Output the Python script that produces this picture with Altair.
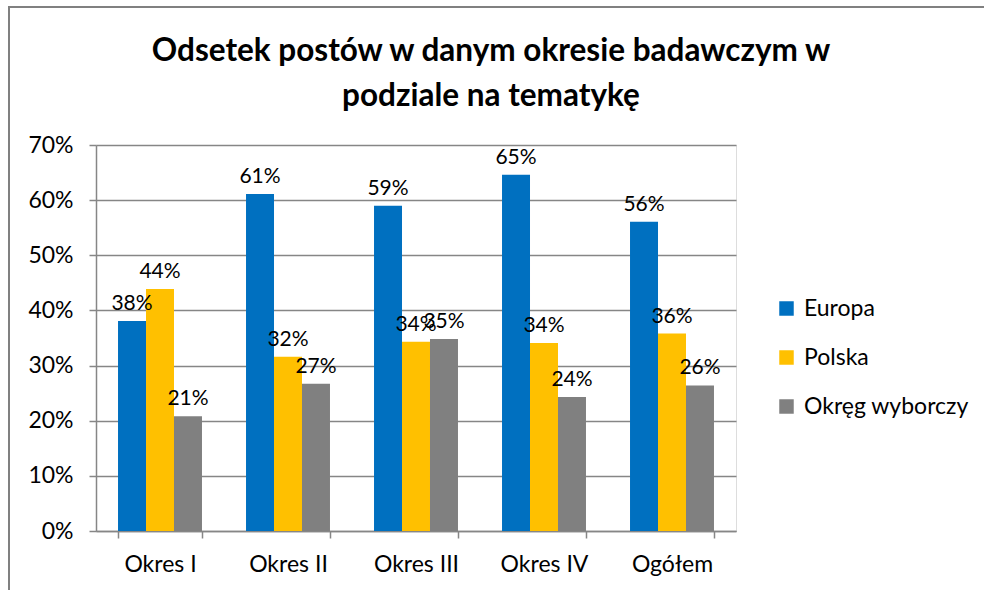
import altair as alt
import pandas as pd

title_lines = ["Odsetek postów w danym okresie badawczym w", "podziale na tematykę"]
categories = ["Okres I", "Okres II", "Okres III", "Okres IV", "Ogółem"]
series = ["Europa", "Polska", "Okręg wyborczy"]
europa = [0.381, 0.611, 0.590, 0.646, 0.561]
polska = [0.439, 0.316, 0.343, 0.341, 0.358]
okreg = [0.208, 0.267, 0.348, 0.243, 0.264]
colors = ["#0070C0", "#FFC000", "#808080"]

rows = []
for s, vals in zip(series, [europa, polska, okreg]):
    for c, v in zip(categories, vals):
        rows.append({"Okres": c, "Seria": s, "Wartosc": v})
df = pd.DataFrame(rows)

FONT = "Lato"
GRID = "#868686"
AX_FS = 23

x = alt.X("Okres:N", sort=categories, title=None,
          scale=alt.Scale(paddingInner=0.344, paddingOuter=0.172),
          axis=alt.Axis(labelAngle=0, labelFontSize=AX_FS, labelFont=FONT, labelColor="#000000",
                        tickBand="extent", tickSize=7, tickColor=GRID, domainColor=GRID,
                        domainWidth=1.5, tickWidth=1.5, labelPadding=15, grid=False))
y = alt.Y("Wartosc:Q", title=None,
          scale=alt.Scale(domain=[0, 0.7], nice=False),
          axis=alt.Axis(format=".0%", values=[0, .1, .2, .3, .4, .5, .6, .7],
                        labelFontSize=AX_FS, labelFont=FONT, labelColor="#000000",
                        tickSize=7, tickColor=GRID, domainColor=GRID, gridColor=GRID,
                        gridWidth=1.5, tickWidth=1.5, domainWidth=1.5, labelPadding=16))
xo = alt.XOffset("Seria:N", sort=series, scale=alt.Scale(paddingInner=0, paddingOuter=0))

bars = alt.Chart(df).mark_bar().encode(
    x=x, y=y, xOffset=xo,
    color=alt.Color("Seria:N", sort=series, title=None,
                    scale=alt.Scale(domain=series, range=colors),
                    legend=alt.Legend(orient="none", legendX=679, legendY=152,
                                      symbolType="square", symbolSize=210,
                                      symbolStrokeWidth=0, labelFontSize=AX_FS, labelFont=FONT,
                                      labelColor="#000000", rowPadding=25, labelOffset=6,
                                      labelLimit=400)),
)

labels = alt.Chart(df).mark_text(fontSize=21, font=FONT, baseline="middle", dy=-17,
                                 color="#000000").encode(
    x=x, y=y, xOffset=xo, text=alt.Text("Wartosc:Q", format=".0%"))

one = pd.DataFrame({"a": [1]})
border = alt.Chart(one).mark_rect(
    fill=None, stroke="#808080", strokeWidth=2).encode(
    x=alt.value(-87), x2=alt.value(900), y=alt.value(-138), y2=alt.value(460))

title1 = alt.Chart(one).mark_text(text=title_lines[0], font=FONT, fontSize=31.5, fontWeight="bold",
                                  color="#000000", baseline="middle", align="center").encode(
    x=alt.value(395), y=alt.value(-93))
title2 = alt.Chart(one).mark_text(text=title_lines[1], font=FONT, fontSize=31.5, fontWeight="bold",
                                  color="#000000", baseline="middle", align="center").encode(
    x=alt.value(395), y=alt.value(-48))

chart = alt.layer(border, bars, labels, title1, title2).properties(
    width=640, height=386,
    autosize=alt.AutoSizeParams(type="none"),
    padding={"left": 96, "top": 145, "right": 248, "bottom": 59},
).configure_view(stroke=None).configure(background="#FFFFFF")

chart.save("out.html", embed_options={"renderer": "svg", "actions": False})
